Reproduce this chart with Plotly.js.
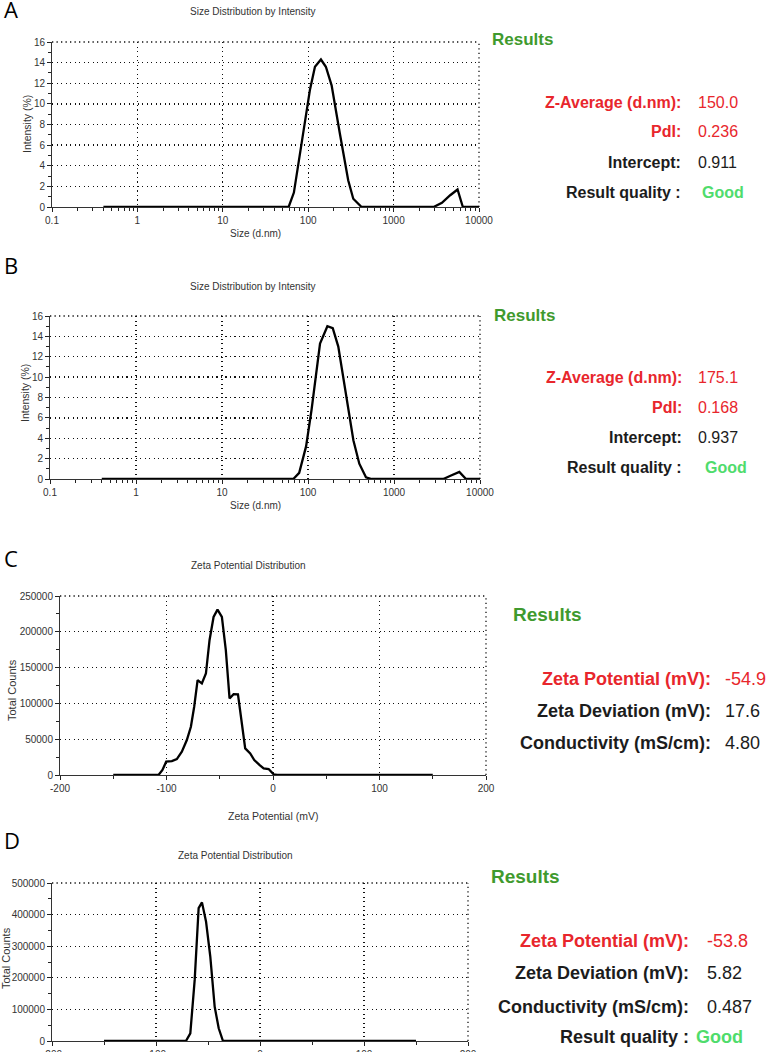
<!DOCTYPE html>
<html><head><meta charset="utf-8">
<script src="https://cdn.plot.ly/plotly-3.0.1.min.js"></script>
<style>html,body{margin:0;padding:0;background:#fff}#chart{width:767px;height:1052px}</style>
</head><body><div id="chart"></div>
<script>
// ---- Panel A: size distribution by intensity ----
const sizeA = [0.4, 59, 68, 84, 105, 120, 141, 161, 188, 235, 294, 337, 422, 2940, 3680, 4600, 5610, 6470, 10000];
const intA  = [0, 0, 1.4, 6.2, 11.4, 13.6, 14.3, 13.6, 11.8, 7.1, 2.6, 0.8, 0, 0, 0.4, 1.14, 1.7, 0, 0];
// ---- Panel B ----
const sizeB = [0.4, 67.5, 79, 95, 110, 138, 168, 194, 225, 282, 337, 395, 472, 550, 3750, 4470, 5750, 6870, 10000];
const intB  = [0, 0, 0.6, 3.2, 6.8, 13.3, 15.0, 14.8, 13.0, 8.1, 3.8, 1.5, 0.16, 0, 0, 0.3, 0.7, 0, 0];
// ---- Panel C: zeta potential distribution ----
const zetaC   = [-150, -107.5, -103.8, -100.3, -95, -90.3, -85.6, -80.9, -77.1, -74, -70.8, -66.8, -63, -59.6, -55.8, -52.1, -48, -44.3, -40.8, -37, -32.9, -30.1, -26.1, -21.4, -17.6, -12.5, -8.8, -4.1, 0.6, 3.8, 150];
const countsC = [0, 0, 7000, 18600, 19500, 22300, 32500, 48800, 67400, 95300, 132400, 127800, 141700, 188200, 220700, 231000, 220700, 174300, 106900, 112900, 112500, 81300, 37200, 30200, 20900, 13900, 9300, 8400, 900, 0, 0];
// ---- Panel D ----
const zetaD   = [-150, -71.2, -67, -62.8, -59, -55.8, -51.9, -47.8, -43.6, -39.7, -35.6, 150];
const countsD = [0, 0, 24300, 193400, 420700, 438700, 378400, 267400, 108900, 40200, 0, 0];

// ---- tick labels ----
const sizeTickVals = [0.1, 1, 10, 100, 1000, 10000];
const sizeTickText = ['0.1', '1', '10', '100', '1000', '10000'];
const sizeMinorVals = [0.2,0.3,0.4,0.5,0.6,0.7,0.8,0.9,2,3,4,5,6,7,8,9,20,30,40,50,60,70,80,90,200,300,400,500,600,700,800,900,2000,3000,4000,5000,6000,7000,8000,9000];
const zetaTickVals = [-200, -100, 0, 100, 200];
const zetaTickText = ['-200', '-100', '0', '100', '200'];
const zetaMinorVals = [-150, -50, 50, 150];

// ---- Result texts ----
const resA = [['Z-Average (d.nm):', '150.0', 'red'], ['PdI:', '0.236', 'red'], ['Intercept:', '0.911', 'black'], ['Result quality :', 'Good', 'good']];
const resB = [['Z-Average (d.nm):', '175.1', 'red'], ['PdI:', '0.168', 'red'], ['Intercept:', '0.937', 'black'], ['Result quality :', 'Good', 'good']];
const resC = [['Zeta Potential (mV):', '-54.9', 'red'], ['Zeta Deviation (mV):', '17.6', 'black'], ['Conductivity (mS/cm):', '4.80', 'black']];
const resD = [['Zeta Potential (mV):', '-53.8', 'red'], ['Zeta Deviation (mV):', '5.82', 'black'], ['Conductivity (mS/cm):', '0.487', 'black'], ['Result quality :', 'Good', 'good']];

const W = 767, H = 1052;
const px = p => p / W, py = p => 1 - p / H;
const FONT = 'Liberation Sans, Arial, sans-serif';
const RED = '#e8262c', GREEN = '#3f9a2e', LGREEN = '#4fdc6c', BLK = '#1c1c1c';
const TICKC = '#222';

const line = {color: '#000', width: 2.3};
const traces = [
  {x: sizeA, y: intA, xaxis: 'x', yaxis: 'y', mode: 'lines', line: line},
  {x: sizeB, y: intB, xaxis: 'x2', yaxis: 'y2', mode: 'lines', line: line},
  {x: zetaC, y: countsC, xaxis: 'x3', yaxis: 'y3', mode: 'lines', line: line},
  {x: zetaD, y: countsD, xaxis: 'x4', yaxis: 'y4', mode: 'lines', line: line}
];

function ax(extra) {
  return Object.assign({
    showline: true, linecolor: '#333', linewidth: 1,
    ticks: 'outside', ticklen: 4, tickcolor: TICKC, tickwidth: 1,
    showgrid: true, gridcolor: '#111', gridwidth: 1.3, griddash: '1.3px,3.2px',
    zeroline: false, fixedrange: true,
    tickfont: {family: FONT, size: 10, color: '#333'}
  }, extra);
}
const minorLin = d => ({dtick: d, ticks: 'outside', ticklen: 3, tickcolor: TICKC, showgrid: false});
const minorArr = v => ({tickmode: 'array', tickvals: v, ticks: 'outside', ticklen: 3, tickcolor: TICKC, showgrid: false});
// overlay axis that draws the inner half of the crossing ticks
function inner(base, overlay, anchor) {
  const o = {overlaying: overlay, anchor: anchor, range: base.range, type: base.type || 'linear',
    showline: false, showgrid: false, zeroline: false, showticklabels: false, fixedrange: true,
    ticks: 'inside', ticklen: 4, tickcolor: TICKC, tickwidth: 1};
  if (base.tickmode === 'array') { o.tickmode = 'array'; o.tickvals = base.tickvals; }
  else o.dtick = base.dtick;
  if (base.minor) o.minor = Object.assign({}, base.minor, {ticks: 'inside'});
  return o;
}

const layout = {
  width: W, height: H, margin: {l: 0, r: 0, t: 0, b: 0},
  paper_bgcolor: '#fff', plot_bgcolor: 'rgba(0,0,0,0)', showlegend: false,
  font: {family: FONT, color: '#333'},
  xaxis: ax({type: 'log', range: [-1, 4], domain: [px(52), px(479)], anchor: 'y', tickmode: 'array', tickvals: sizeTickVals, ticktext: sizeTickText, minor: minorArr(sizeMinorVals)}),
  yaxis: ax({range: [0, 16], dtick: 2, domain: [py(207), py(42)], anchor: 'x', minor: minorLin(1)}),
  xaxis2: ax({type: 'log', range: [-1, 4], domain: [px(50), px(480)], anchor: 'y2', tickmode: 'array', tickvals: sizeTickVals, ticktext: sizeTickText, minor: minorArr(sizeMinorVals)}),
  yaxis2: ax({range: [0, 16], dtick: 2, domain: [py(479), py(316)], anchor: 'x2', minor: minorLin(1)}),
  xaxis3: ax({range: [-200, 200], tickmode: 'array', tickvals: zetaTickVals, ticktext: zetaTickText, domain: [px(60), px(486)], anchor: 'y3', minor: minorArr(zetaMinorVals)}),
  yaxis3: ax({range: [0, 250000], dtick: 50000, tickformat: 'd', domain: [py(775), py(596)], anchor: 'x3', minor: minorLin(25000)}),
  xaxis4: ax({range: [-200, 200], tickmode: 'array', tickvals: zetaTickVals, ticktext: zetaTickText, domain: [px(52), px(468)], anchor: 'y4', minor: minorArr(zetaMinorVals)}),
  yaxis4: ax({range: [0, 500000], dtick: 100000, tickformat: 'd', domain: [py(1041), py(883)], anchor: 'x4', minor: minorLin(50000)}),
  annotations: [], shapes: []
};
// crossing ticks: inner halves on overlay axes
layout.xaxis5 = inner(layout.xaxis, 'x', 'y');
layout.yaxis5 = inner(layout.yaxis, 'y', 'x');
layout.xaxis6 = inner(layout.xaxis2, 'x2', 'y2');
layout.yaxis6 = inner(layout.yaxis2, 'y2', 'x2');
layout.xaxis7 = inner(layout.xaxis3, 'x3', 'y3');
layout.yaxis7 = inner(layout.yaxis3, 'y3', 'x3');
layout.xaxis8 = inner(layout.xaxis4, 'x4', 'y4');
layout.yaxis8 = inner(layout.yaxis4, 'y4', 'x4');

// dotted frame on top and right edges of each plot
[['x', 'y'], ['x2', 'y2'], ['x3', 'y3'], ['x4', 'y4']].forEach(([xa, ya]) => {
  const st = {color: '#111', width: 1.3, dash: '1.3px,3.2px'};
  layout.shapes.push({type: 'line', xref: xa + ' domain', yref: ya + ' domain', x0: 0, x1: 1, y0: 1, y1: 1, line: st, layer: 'below'});
  layout.shapes.push({type: 'line', xref: xa + ' domain', yref: ya + ' domain', x0: 1, x1: 1, y0: 0, y1: 1, line: st, layer: 'below'});
});

const A = layout.annotations;
function txt(text, x, y, size, color, opts) {
  A.push(Object.assign({text: text, xref: 'paper', yref: 'paper', x: px(x), y: py(y), showarrow: false,
    xanchor: 'center', yanchor: 'middle', font: {family: FONT, size: size, color: color}}, opts || {}));
}
// panel letters
['A', 'B', 'C', 'D'].forEach((L, i) => txt(L, 2, [9, 265, 558, 840][i], 22, '#000', {xanchor: 'left', font: {family: 'Open Sans, sans-serif', size: 22, color: '#000'}}));
// chart titles
txt('Size Distribution by Intensity', 253, 12, 10, '#333');
txt('Size Distribution by Intensity', 253, 286, 10, '#333');
txt('Zeta Potential Distribution', 248, 565, 10, '#333');
txt('Zeta Potential Distribution', 235, 855, 10, '#333');
// axis titles
txt('Size (d.nm)', 255, 233, 10, '#333');
txt('Size (d.nm)', 255, 505, 10, '#333');
txt('Zeta Potential (mV)', 273, 816, 10.5, '#333');
txt('Intensity (%)', 27, 124, 10.5, '#333', {textangle: -90});
txt('Intensity (%)', 25, 393, 10.5, '#333', {textangle: -90});
txt('Total Counts', 12, 690, 11, '#333', {textangle: -90});
txt('Total Counts', 6, 958, 11, '#333', {textangle: -90});

// results blocks
function results(rows, titleX, titleY, titleSize, ys, colonX, valX, size, goodX) {
  txt('<b>Results</b>', titleX, titleY, titleSize, GREEN, {xanchor: 'left'});
  rows.forEach((r, i) => {
    const lc = r[2] === 'red' ? RED : BLK;
    const vc = r[2] === 'red' ? RED : (r[2] === 'good' ? LGREEN : BLK);
    txt('<b>' + r[0] + '</b>', colonX, ys[i], size, lc, {xanchor: 'right'});
    const vx = (r[2] === 'good' && goodX) ? goodX : valX;
    txt(r[2] === 'good' ? '<b>' + r[1] + '</b>' : r[1], vx, ys[i], size, vc, {xanchor: 'left'});
  });
}
results(resA, 490, 40, 17, [102, 132, 163, 193], 683, 696, 16, 700);
results(resB, 492, 315, 17, [377, 407, 437, 468], 684, 696, 16, 703);
results(resC, 511, 614, 19, [679, 711, 743], 713, 723, 18, null);
results(resD, 489, 876, 19, [941, 973, 1007, 1037], 691, 705, 18, 694);

Plotly.newPlot('chart', traces, layout, {staticPlot: true, displayModeBar: false});
</script></body></html>
